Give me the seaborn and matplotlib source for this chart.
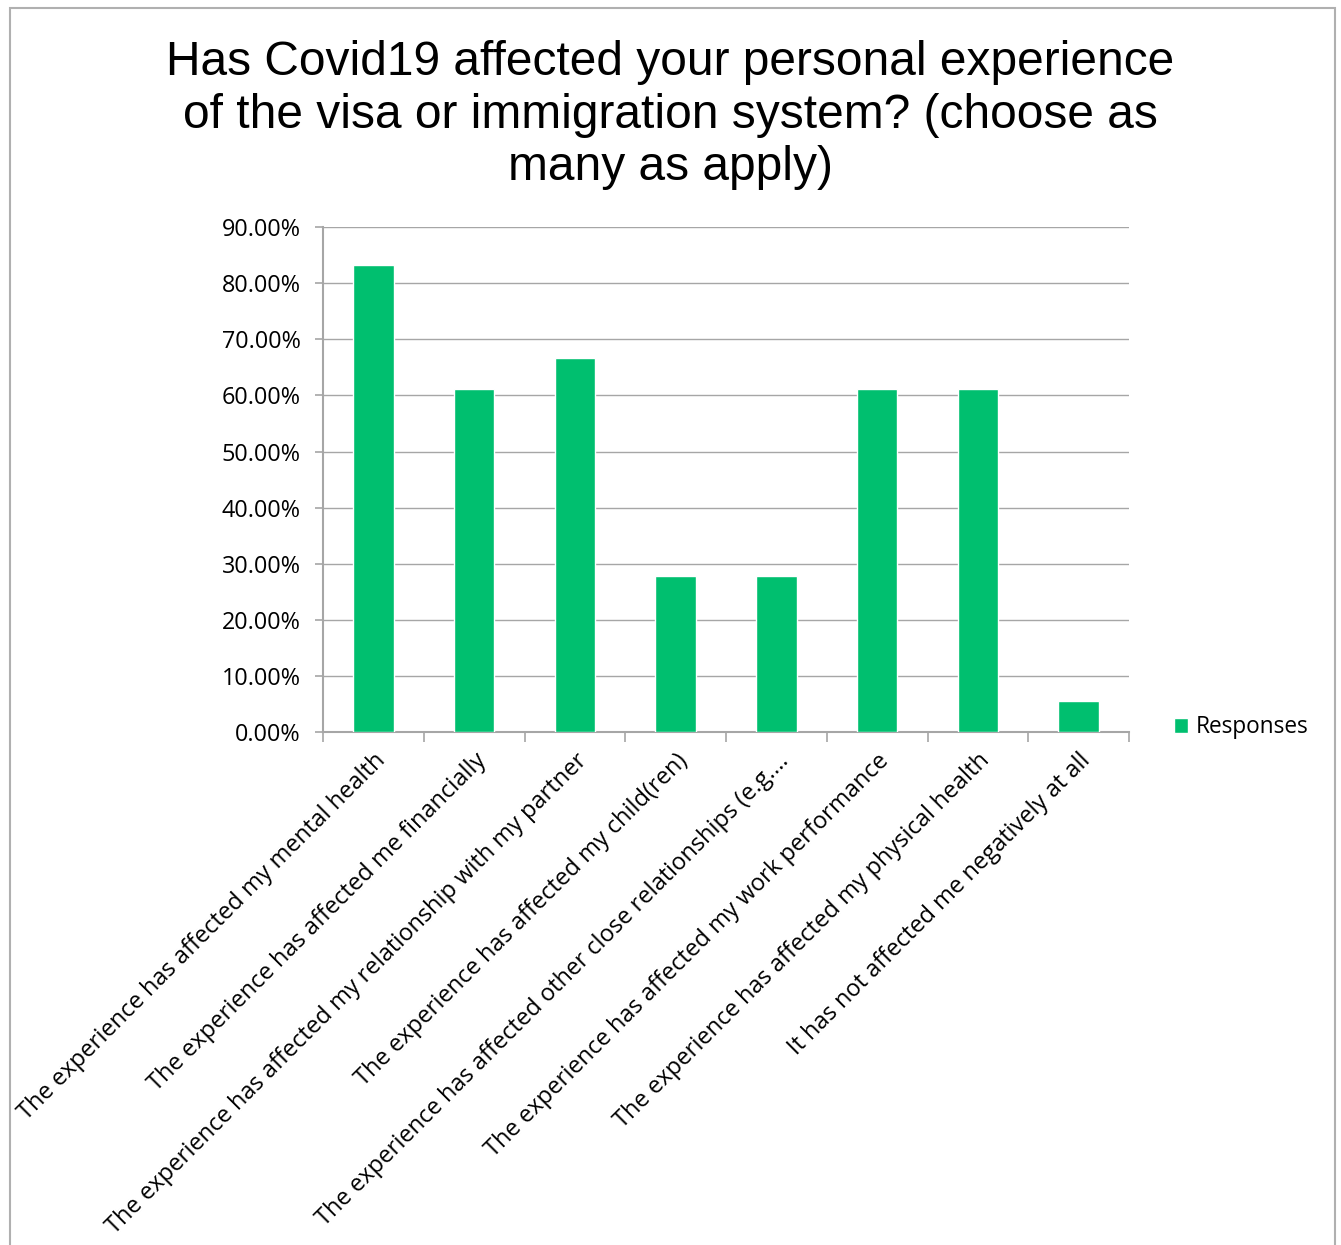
import matplotlib
matplotlib.use('Agg')
import matplotlib.pyplot as plt
import seaborn as sns
import pandas as pd
from matplotlib.patches import Rectangle

categories = [
    'The experience has affected my mental health',
    'The experience has affected me financially',
    'The experience has affected my relationship with my partner',
    'The experience has affected my child(ren)',
    'The experience has affected other close relationships (e.g.…',
    'The experience has affected my work performance',
    'The experience has affected my physical health',
    'It has not affected me negatively at all',
]
responses = [83.33, 61.11, 66.67, 27.78, 27.78, 61.11, 61.11, 5.56]
yticks = [0, 10, 20, 30, 40, 50, 60, 70, 80, 90]

df = pd.DataFrame({'Answer': categories, 'Responses': responses})

sns.set_style('white')
plt.rcParams['font.family'] = ['Open Sans', 'DejaVu Sans']
plt.rcParams['text.color'] = 'black'
green = '#00BF6F'
grey = '#A6A6A6'

fig = plt.figure(figsize=(13.41, 12.45), dpi=100)
ax = fig.add_axes([0.2409, 0.412, 0.601, 0.4056])

sns.barplot(data=df, x='Answer', y='Responses', color=green, saturation=1,
            width=0.4, ax=ax, label='Responses', zorder=3)

ax.set_ylim(0, 90)
ax.set_xlim(-0.5, len(categories) - 0.5)
ax.set_yticks(yticks)
ax.set_yticklabels([f'{v:.2f}%' for v in yticks], fontsize=16.8, color='black')
ax.yaxis.grid(True, color=grey, linewidth=1, zorder=0)
ax.set_axisbelow(True)

# category boundaries as ticks, labels at bar centres
ax.set_xticks([i - 0.5 for i in range(len(categories) + 1)], minor=False)
ax.set_xticklabels([])
ax.set_xticks(range(len(categories)), minor=True)
ax.set_xticklabels(categories, minor=True, rotation=45, ha='right',
                   rotation_mode='anchor', fontsize=17, color='black')
ax.tick_params(axis='x', which='major', length=7, color=grey, width=1.2,
               direction='out', bottom=True)
ax.tick_params(axis='x', which='minor', length=0, pad=12)
ax.tick_params(axis='y', length=6, color=grey, width=1.2, direction='out',
               left=True, pad=10)

for s in ['top', 'right']:
    ax.spines[s].set_visible(False)
for s in ['left', 'bottom']:
    ax.spines[s].set_color(grey)
    ax.spines[s].set_linewidth(1.5)

ax.set_xlabel('')
ax.set_ylabel('')

leg = ax.legend(loc='center left', bbox_to_anchor=(1.03, 0.01), frameon=False,
                fontsize=16.3, handlelength=0.65, handleheight=0.65,
                handletextpad=0.35)

fig.suptitle('Has Covid19 affected your personal experience\n'
             'of the visa or immigration system? (choose as\nmany as apply)',
             x=0.5, y=0.968, fontsize=34.5, family='Liberation Sans',
             linespacing=1.22, va='top', color='black')

fig.add_artist(Rectangle((0.0075, -0.01), 0.988, 1.0035,
                         transform=fig.transFigure, fill=False,
                         edgecolor='#B0B0B0', linewidth=1.5))

fig.savefig('out.png', dpi=100, facecolor='white')
